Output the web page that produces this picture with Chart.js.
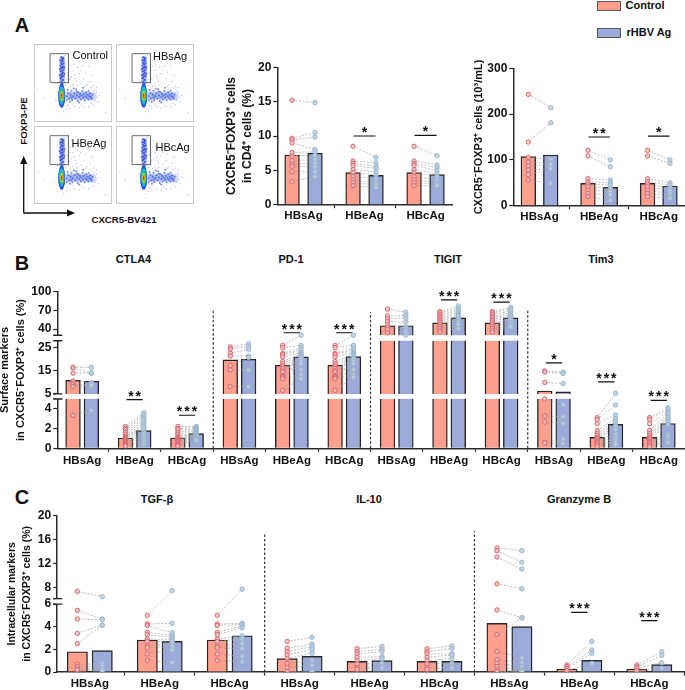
<!DOCTYPE html>
<html>
<head>
<meta charset="utf-8">
<title>CXCR5-FOXP3+ cells</title>
<script src="https://cdn.jsdelivr.net/npm/chart.js@4"></script>
<style>
    html, body { margin: 0; padding: 0; background: #fff; }
    #page { position: relative; width: 685px; height: 690px; overflow: hidden; font-family: "Liberation Sans", Arial, sans-serif; color: #111; }
    #page canvas { position: absolute; }
    .txt { position: absolute; white-space: nowrap; font-weight: bold; transform: translate(-50%, -50%); line-height: 1; }
    .letter { font-size: 20px; }
    .head { font-size: 11px; }
    .pane { position: absolute; box-sizing: border-box; border: 1px solid #c9c9c9; }
    .gate { font-weight: normal; font-size: 11px; transform: translate(0, -50%); }
    .swatch { position: absolute; width: 22px; height: 8px; border: 1px solid #555; }
</style>
</head>
<body>
<div id="page">
    <div class="txt letter" style="left:22px;top:25px">A</div>
    <div class="txt letter" style="left:22px;top:263px">B</div>
    <div class="txt letter" style="left:22px;top:497px">C</div>

    <div class="swatch" style="left:597px;top:1px;background:#ff9f8d"></div>
    <div class="txt" style="left:625.5px;top:5px;font-size:11px;transform:translate(0,-50%)">Control</div>
    <div class="swatch" style="left:597px;top:28px;background:#9baad8"></div>
    <div class="txt" style="left:626.5px;top:32px;font-size:11px;transform:translate(0,-50%)">rHBV Ag</div>

    <div class="txt gate" style="left:72.5px;top:55px;z-index:2">Control</div>
    <div class="txt gate" style="left:153px;top:56px;z-index:2">HBsAg</div>
    <div class="txt gate" style="left:71.5px;top:143px;z-index:2">HBeAg</div>
    <div class="txt gate" style="left:155.5px;top:147px;z-index:2">HBcAg</div>
    <div class="txt" style="left:23.5px;top:121px;font-size:9.6px;transform:translate(-50%,-50%) rotate(-90deg)">FOXP3-PE</div>
    <div class="txt" style="left:124px;top:220px;font-size:9.6px">CXCR5-BV421</div>
    <svg style="position:absolute;left:0;top:0" width="90" height="225">
        <path d="M23.7 213 V162 M23.7 213 H70" stroke="#111" stroke-width="1.3" fill="none"/>
        <path d="M23.7 156 L20.2 164 H27.2 Z M75 213 L67 209.5 V216.5 Z" fill="#111"/>
    </svg>

    <div class="txt head" style="left:133.5px;top:259px">CTLA4</div>
    <div class="txt head" style="left:291px;top:259px">PD-1</div>
    <div class="txt head" style="left:448px;top:259px">TIGIT</div>
    <div class="txt head" style="left:601px;top:259px">Tim3</div>
    <div class="txt head" style="left:157px;top:499px">TGF-β</div>
    <div class="txt head" style="left:369px;top:499px">IL-10</div>
    <div class="txt head" style="left:579px;top:499px">Granzyme B</div>
</div>

<script>
// x tick labels
const threeAg = ['HBsAg', 'HBeAg', 'HBcAg'];
const twelveAg = [...threeAg, ...threeAg, ...threeAg, ...threeAg];
const nineAg = [...threeAg, ...threeAg, ...threeAg];

// Panel A, left: CXCR5-FOXP3+ cells in CD4+ cells (%)
const freqBarControl = [7.23, 4.66, 4.66];
const freqBarAg = [7.5, 4.27, 4.37];
const freqControl = [
    [15.2, 9.66, 9.4, 9.0, 7.6, 7.1, 6.4, 5.9, 5.6, 4.8, 3.35],
    [8.5, 6.36, 6.0, 5.7, 5.1, 4.7, 4.1, 3.6, 3.2, 2.77],
    [8.5, 6.36, 6.0, 5.7, 5.1, 4.7, 4.1, 3.6, 3.2, 2.77]
];
const freqAg = [
    [14.85, 10.5, 9.85, 8.06, 7.7, 7.2, 6.6, 6.0, 5.5, 4.8, 4.1],
    [6.9, 6.1, 5.6, 5.3, 4.8, 4.3, 3.8, 3.2, 2.9, 2.5],
    [7.13, 5.8, 5.4, 5.0, 4.5, 4.1, 3.6, 3.2, 3.0, 2.77]
];
const freqSig = [[1, 10, '*'], [2, 10.1, '*']];

// Panel A, right: CXCR5-FOXP3+ cells (10^3/mL)
const countBarControl = [107, 48.8, 48.8];
const countBarAg = [110.7, 40, 43];
const countControl = [
    [243, 139, 105.6, 95, 87, 78, 68, 56],
    [121, 108.5, 59, 52, 47, 41, 34, 27, 20],
    [121, 108.5, 59, 52, 47, 41, 34, 27, 20]
];
const countAg = [
    [214, 181, 101, 92, 90, 81, 81, 49],
    [100, 85, 56, 50, 45, 38, 31, 24, 12],
    [100, 92.5, 50, 45, 39, 33, 26, 20, 16]
];
const countSig = [[1, 150, '**'], [2, 152, '*']];

// Panel B: surface markers, CTLA4 / PD-1 / TIGIT / Tim3
const surfaceBarControl = [10.9, 1.04, 1.04, 19.7, 17.4, 17.4, 45.4, 50, 50, 6.3, 1.1, 1.1];
const surfaceBarAg = [10.5, 1.78, 1.48, 20, 21, 21.1, 45.4, 58, 58, 5.9, 2.42, 2.5];
const surfaceControl = [
    [16.5, 16.3, 14, 10.6, 9.2, 8.2, 3.33],
    [2.2, 2.0, 1.85, 1.6, 1.4, 1.2, 1.1, 1.0, 0.9, 0.8, 0.7, 0.6, 0.5, 0.4, 0.3, 0.2],
    [2.2, 2.0, 1.85, 1.6, 1.4, 1.2, 1.1, 1.0, 0.9, 0.8, 0.7, 0.6, 0.5, 0.4, 0.3, 0.2],
    [25.3, 24.4, 22.6, 21.4, 17.2, 15.4, 8.2],
    [26, 25, 22.5, 22, 21, 19, 18, 17, 16, 15, 14.5, 13, 12.5, 12, 11.5, 6.6],
    [26, 25, 22.5, 22, 21, 19, 18, 17, 16, 15, 14.5, 13, 12.5, 12, 11.5, 6.6],
    [72, 61, 56.6, 52, 47, 43, 39, 34],
    [68, 66, 63, 60, 58, 55, 53, 50, 47, 44, 41, 38, 35],
    [68, 66, 63, 60, 58, 55, 53, 50, 47, 44, 41, 38, 35],
    [14.9, 14.5, 10, 4.98, 3.27, 2.66, 0.6, 0.55],
    [3.1, 2.9, 2.5, 1.8, 1.5, 1.3, 1.1, 1.0, 0.85, 0.7, 0.6, 0.45, 0.3, 0.13],
    [3.1, 2.9, 2.5, 1.8, 1.5, 1.3, 1.1, 1.0, 0.85, 0.7, 0.6, 0.45, 0.3, 0.13]
];
const surfaceAg = [
    [16.5, 14, 14.1, 9.9, 8.6, 8.8, 3.84],
    [3.6, 3.4, 3.2, 3.0, 2.8, 2.6, 2.4, 2.2, 2.0, 1.7, 1.5, 1.3, 1.1, 0.9, 0.7, 0.4],
    [2.2, 2.1, 2.0, 1.9, 1.8, 1.7, 1.6, 1.5, 1.4, 1.35, 1.3, 1.2, 1.1, 1.0, 0.9, 0.8],
    [26.7, 25.6, 24.3, 21.4, 20.8, 15.4, 8.2],
    [30, 26, 25, 24, 23, 22.5, 22, 21.5, 21, 20.5, 20, 19, 18, 15.5, 13.5, 11.5],
    [30, 26, 25, 24, 23, 22.5, 22, 21.5, 21, 20.5, 20, 19, 18, 15.5, 13.5, 12.2],
    [67, 62, 57.7, 51, 43, 38, 34, 30],
    [77, 73, 70, 67, 64, 62, 60, 57, 55, 52, 50, 47, 41],
    [75, 72, 69, 66, 63, 61, 59, 56, 54, 51, 49, 46, 43.7],
    [14.4, 13.9, 9.5, 4.4, 3.2, 2.5, 0.94, 0.47],
    [5.3, 4.38, 3.37, 3.0, 2.7, 2.4, 2.2, 1.9, 1.4, 1.1, 0.9, 0.7, 0.6, 0.4],
    [4.1, 3.9, 3.7, 3.5, 3.3, 3.1, 2.9, 2.7, 2.4, 1.4, 1.2, 0.9, 0.7, 0.6]
];
const surfaceSig = [
    [1, 4.91, '**'], [2, 3.34, '***'], [4, 34.1, '***'], [5, 34.1, '***'],
    [7, 87, '***'], [8, 83.4, '***'], [9, 18.4, '*'], [10, 10.2, '***'], [11, 4.85, '***']
];

// Panel C: intracellular markers, TGF-β / IL-10 / Granzyme B
const innerBarControl = [1.79, 2.82, 2.82, 1.18, 0.94, 0.94, 4.29, 0.26, 0.26];
const innerBarAg = [1.88, 2.7, 3.2, 1.38, 1.0, 0.94, 4.0, 1.03, 0.65];
const innerControl = [
    [7.33, 5.44, 4.68, 3.41, 2.5, 0.68, 0.47, 0.26, 0.18],
    [5.0, 4.24, 4.1, 3.5, 3.3, 2.9, 2.7, 2.3, 2.15, 1.6, 1.03],
    [5.0, 4.24, 4.1, 3.5, 3.3, 2.9, 2.7, 2.3, 2.15, 1.6, 1.03],
    [2.7, 2.1, 1.8, 1.5, 1.2, 0.75, 0.4, 0.03],
    [2.06, 1.8, 1.6, 1.3, 1.0, 0.7, 0.4, 0.24],
    [2.06, 1.8, 1.6, 1.3, 1.0, 0.7, 0.4, 0.24],
    [14.6, 14.15, 13.08, 8.6, 5.47, 3.3, 1.82, 1.1, 0.76, 0.47, 0.18, 0.03],
    [0.62, 0.47, 0.32, 0.12],
    [0.62, 0.47, 0.32, 0.12]
];
const innerAg = [
    [6.44, 4.68, 4.62, 4.15, 4.12, 0.74, 0.53, 0.29, 0.12],
    [7.44, 4.3, 3.47, 3.26, 3.06, 2.88, 2.68, 2.47, 2.24, 1.94, 0.85],
    [7.7, 4.3, 4.2, 4.06, 3.9, 3.2, 2.94, 2.5, 2.06, 1.4, 0.9],
    [3.06, 2.47, 2.24, 2.0, 1.65, 1.06, 0.62, 0.03],
    [2.26, 2.0, 1.8, 1.35, 1.2, 0.76, 0.47, 0.35],
    [2.3, 2.06, 1.6, 1.5, 1.2, 0.76, 0.47, 0.35],
    [14.15, 12.2, 11.07, 7.78, 4.8, 4.76, 1.26, 0.82, 0.47, 0.18, 0.1, 0.06],
    [2.7, 1.94, 1.65, 0.76],
    [1.8, 1.47, 0.82, 0.32]
];
const innerSig = [[7, 5.26, '***'], [8, 4.53, '***']];

// Flow plot dots, read by eye (x, y in percent of a pane)
const flowCoreBlue = [[35.5, 20], [35.5, 22], [35.5, 25], [35.5, 28], [35.5, 31], [35.5, 34], [35.5, 37], [35.5, 40], [35.5, 43], [35.5, 46], [35.5, 48]];
const flowCoreBlueSize = [1.4, 2.2, 2.9, 3.3, 3.5, 3.5, 3.4, 3.1, 2.7, 2.2, 1.5];
const flowCoreCyan = [[35.5, 24], [35.5, 27], [35.5, 30], [35.5, 33], [35.5, 36], [35.5, 39], [35.5, 42], [35.5, 44]];
const flowCoreCyanSize = [1.2, 2.0, 2.6, 2.8, 2.8, 2.6, 2.0, 1.2];
const flowCoreGreen = [[35.5, 27], [35.5, 30], [35.5, 33], [35.5, 36], [35.5, 39], [35.5, 41]];
const flowCoreGreenSize = [1.2, 1.9, 2.2, 2.2, 1.8, 1.1];
const flowCoreYellow = [[35.5, 29], [35.5, 32], [35.5, 35], [35.5, 38]];
const flowCoreYellowSize = [1.0, 1.5, 1.5, 1.0];
const flowCoreRed = [[35.5, 31.5], [35.5, 33.5], [35.5, 35.5]];
const flowCoreRedSize = [0.7, 1.0, 0.7];
const flowStem = [
    [36, 49], [35, 52], [37, 54], [34, 56], [36, 58], [38, 59], [35, 61], [37, 63], [34, 65], [36, 66], [38, 67],
    [35, 69], [37, 71], [34, 72], [36, 74], [38, 75], [35, 76], [37, 78], [34, 79], [36, 80], [37, 81], [39, 62],
    [33, 60], [39, 70], [33, 68], [36, 62], [36, 70], [35, 57], [37, 82], [35, 83]
];
const flowStemHaze = [[36, 52], [36, 57], [36, 62], [36, 67], [36, 72], [36, 77], [36, 81]];
const flowTail = [
    [42, 33], [44, 37], [45, 30], [47, 35], [48, 40], [49, 28], [50, 33], [52, 37], [53, 30], [54, 42],
    [55, 34], [56, 27], [57, 38], [58, 32], [59, 36], [60, 29], [61, 34], [62, 40], [63, 31], [64, 36],
    [65, 28], [66, 33], [67, 38], [68, 31], [69, 35], [70, 29], [71, 33], [72, 37], [73, 32], [74, 30],
    [43, 41], [46, 26], [51, 43], [58, 25], [63, 44], [42, 28], [75, 35], [70, 40], [48, 31], [55, 39]
];
const flowTailHaze = [[43, 34], [47, 33], [51, 34], [55, 34], [59, 33], [63, 34], [67, 34], [71, 33], [75, 33]];
const flowSpray = [
    [40, 85], [44, 78], [47, 72], [50, 66], [43, 63], [46, 55], [52, 60], [56, 70], [48, 82], [54, 52],
    [58, 62], [60, 50], [64, 56], [50, 48], [44, 50], [68, 48], [72, 52], [62, 72], [66, 64], [76, 46],
    [80, 38], [84, 34], [78, 28], [82, 26], [76, 22], [70, 20], [64, 20], [58, 18], [52, 20], [46, 18],
    [42, 16], [38, 13], [80, 44], [74, 60], [58, 78], [30, 50], [28, 28], [30, 38], [5, 42], [92, 12],
    [12, 30], [70, 72], [55, 47], [48, 58], [40, 72], [42, 55], [45, 66], [51, 74], [41, 47], [47, 46],
    [53, 56], [60, 66], [66, 46], [73, 44], [78, 40], [81, 31], [73, 24], [61, 23], [49, 23], [43, 21]
];
const flowGate = [[20.6, 50.5], [20.6, 87.6], [44.2, 87.6], [44.2, 50.5], [20.6, 50.5]];

const FONT = '"Liberation Sans", Arial, sans-serif';
const page = document.getElementById('page');

// Linear scale with axis breaks: pieces say how far above the axis bottom (px) a value range sits
class BrokenScale extends Chart.LinearScale {
    static id = 'broken';
    static defaults = {};

    buildTicks() {
        return this.options.tickValues.map(value => ({ value }));
    }

    getPixelForValue(value) {
        const pieces = this.options.pieces;
        let piece = pieces[pieces.length - 1];
        for (let i = 0; i < pieces.length; i++) {
            if (value <= pieces[i].to) {
                piece = pieces[i];
                break;
            }
        }
        const t = Math.max(0, (value - piece.from) / (piece.to - piece.from));
        return this.bottom - (piece.a + t * (piece.b - piece.a));
    }
}
Chart.register(BrokenScale);

// White strip over the bars at each break, with the two short strokes on the axis
const breakPlugin = {
    id: 'breakStrips',
    afterDatasetDraw(chart, args) {
        const y = chart.scales.y;
        if (args.meta.type !== 'bar' || y.type !== 'broken') return;
        const pieces = y.options.pieces;
        const ctx = chart.ctx;
        ctx.save();
        for (let i = 1; i < pieces.length; i++) {
            const lower = y.bottom - pieces[i - 1].b;
            const upper = y.bottom - pieces[i].a;
            ctx.fillStyle = '#fff';
            ctx.fillRect(y.right - 2, upper, chart.width, lower - upper);
            ctx.strokeStyle = '#222';
            ctx.lineWidth = 1.2;
            ctx.beginPath();
            ctx.moveTo(y.right - 4, upper);
            ctx.lineTo(y.right + 5, upper);
            ctx.moveTo(y.right - 4, lower);
            ctx.lineTo(y.right + 5, lower);
            ctx.stroke();
        }
        ctx.restore();
    }
};

function starPlugin(sig) {
    return {
        id: 'sigStars',
        afterDatasetsDraw(chart) {
            const ctx = chart.ctx;
            ctx.save();
            ctx.font = 'bold 14px ' + FONT;
            ctx.letterSpacing = '2px';
            ctx.fillStyle = '#111';
            ctx.textAlign = 'center';
            ctx.textBaseline = 'alphabetic';
            sig.forEach(([x, y, label]) => {
                ctx.fillText(label, chart.scales.x.getPixelForValue(x) + 1, chart.scales.y.getPixelForValue(y) + 1);
            });
            ctx.restore();
        }
    };
}

function addCanvas(left, top, width, height) {
    const canvas = document.createElement('canvas');
    canvas.width = width;
    canvas.height = height;
    canvas.style.left = left + 'px';
    canvas.style.top = top + 'px';
    canvas.style.width = width + 'px';
    canvas.style.height = height + 'px';
    page.appendChild(canvas);
    return canvas;
}

function pairLines(control, ag, offset) {
    const data = [];
    control.forEach((values, group) => {
        values.forEach((value, i) => {
            data.push({ x: group - offset, y: value }, { x: group + offset, y: ag[group][i] }, { x: null, y: null });
        });
    });
    return data;
}

function column(series, offset) {
    return series.flatMap((values, group) => values.map(y => ({ x: group + offset, y })));
}

function barData(values, offset) {
    return values.map((y, group) => ({ x: group + offset, y }));
}

function renderPanel(p) {
    const canvas = addCanvas(p.left, p.top, p.width, p.height);
    const sigLines = p.sig.flatMap(([x, y]) => [{ x: x - p.sigHalf, y }, { x: x + p.sigHalf, y }, { x: null, y: null }]);
    const dividers = (p.dividers || []).flatMap(([x, y]) => [{ x, y: 0 }, { x, y }, { x: null, y: null }]);

    const datasets = [
        {
            type: 'scatter', data: column(p.ag, p.offset), order: 0,
            pointRadius: p.pointRadius, pointBorderWidth: 1,
            pointBackgroundColor: 'rgba(190,207,220,0.85)', pointBorderColor: '#9ab5d0'
        },
        {
            type: 'scatter', data: column(p.control, -p.offset), order: 0,
            pointRadius: p.pointRadius, pointBorderWidth: 1,
            pointBackgroundColor: 'rgba(232,196,196,0.8)', pointBorderColor: '#d9666f'
        },
        {
            type: 'line', data: pairLines(p.control, p.ag, p.offset), order: 1, pointRadius: 0,
            borderColor: '#a0a0a0', borderWidth: 0.7, borderDash: [2, 1.5], spanGaps: false
        },
        {
            type: 'line', data: sigLines, order: 1, pointRadius: 0,
            borderColor: '#111', borderWidth: 1.2, spanGaps: false
        },
        {
            type: 'line', data: dividers, order: 1, pointRadius: 0,
            borderColor: '#333', borderWidth: 1.2, borderDash: [2.5, 2], spanGaps: false
        },
        {
            type: 'bar', data: barData(p.barAg, p.offset), order: 2, grouped: false,
            barThickness: p.barWidth, backgroundColor: '#9baad8', borderColor: '#262626', borderWidth: 1.4
        },
        {
            type: 'bar', data: barData(p.barControl, -p.offset), order: 2, grouped: false,
            barThickness: p.barWidth, backgroundColor: '#ff9f8d', borderColor: '#262626', borderWidth: 1.4
        }
    ];

    return new Chart(canvas, {
        type: 'bar',
        data: { datasets },
        options: {
            responsive: false,
            animation: false,
            events: [],
            layout: { autoPadding: false, padding: { top: p.padTop, left: 0, right: 0, bottom: 0 } },
            plugins: { legend: { display: false }, tooltip: { enabled: false } },
            scales: {
                x: {
                    type: 'linear', min: p.xMin, max: p.xMax, offset: false,
                    afterBuildTicks: scale => { scale.ticks = p.names.map((_, i) => ({ value: i })); },
                    afterFit: scale => { scale.height = p.xHeight; },
                    grid: { display: true, drawOnChartArea: false, drawTicks: true, tickLength: 3.5, tickColor: '#222', tickWidth: 1.2 },
                    border: { display: true, color: '#2a2a2a', width: 1.5 },
                    ticks: {
                        autoSkip: false, maxRotation: 0, minRotation: 0, padding: p.xPad, color: '#111',
                        font: { family: FONT, weight: 'bold', size: 11.5 },
                        callback: value => p.names[Math.round(value)]
                    }
                },
                y: Object.assign({
                    afterFit: scale => { scale.width = p.axisWidth; },
                    grid: { display: true, drawOnChartArea: false, drawTicks: true, tickLength: 4, tickColor: '#222', tickWidth: 1.2 },
                    border: { display: true, color: '#2a2a2a', width: 1.5 },
                    title: {
                        display: true, text: p.yTitle, color: '#111', padding: { top: p.titlePad, bottom: 0 },
                        font: { family: FONT, weight: 'bold', size: p.titleSize, lineHeight: p.titleLine + 'px' }
                    },
                    ticks: { padding: 2, color: '#111', font: { family: FONT, weight: 'bold', size: 12 } }
                }, p.yScale)
            }
        },
        plugins: [breakPlugin, starPlugin(p.sig)]
    });
}

function renderFlow(left, top, width, height) {
    const box = document.createElement('div');
    box.className = 'pane';
    box.style.cssText = `left:${left}px;top:${top}px;width:${width}px;height:${height}px`;
    page.appendChild(box);
    const canvas = addCanvas(left, top, width, height);
    canvas.style.filter = 'blur(0.4px)';
    const dots = (data, radius, color) => ({ type: 'scatter', data: data.map(([x, y]) => ({ x, y })), pointRadius: radius, pointBorderWidth: 0, pointBackgroundColor: color });
    // later entries in the list are painted first
    const datasets = [
        { type: 'line', data: flowGate.map(([x, y]) => ({ x, y })), pointRadius: 0, borderColor: '#6a6a6a', borderWidth: 1 },
        dots(flowCoreRed, flowCoreRedSize, '#e8201c'),
        dots(flowCoreYellow, flowCoreYellowSize, '#f0d21a'),
        dots(flowCoreGreen, flowCoreGreenSize, '#35c45a'),
        dots(flowCoreCyan, flowCoreCyanSize, '#16bfe0'),
        dots(flowCoreBlue, flowCoreBlueSize, '#2a55e0'),
        dots(flowStem, 1.0, 'rgba(40,70,210,0.8)'),
        dots(flowStemHaze, 3.0, 'rgba(70,100,225,0.4)'),
        dots(flowTail, 1.0, 'rgba(50,85,220,0.7)'),
        dots(flowTailHaze, 4.2, 'rgba(90,120,235,0.28)'),
        dots(flowSpray, 0.6, 'rgba(120,140,235,0.7)')
    ];
    return new Chart(canvas, {
        type: 'scatter',
        data: { datasets },
        options: {
            responsive: false, animation: false, events: [],
            layout: { autoPadding: false, padding: 0 },
            plugins: { legend: { display: false }, tooltip: { enabled: false } },
            scales: {
                x: { type: 'linear', display: false, min: 0, max: 100 },
                y: { type: 'linear', display: false, min: 0, max: 100 }
            }
        }
    });
}

renderFlow(34, 44, 78, 78);
renderFlow(115.5, 44, 78, 78);
renderFlow(34, 125.5, 78, 78);
renderFlow(115.5, 125.5, 78, 78);

renderPanel({
    left: 220, top: 55, width: 233, height: 175, padTop: 12.3, xHeight: 25.3, axisWidth: 57.3, xPad: 1,
    xMin: -0.43, xMax: 2.45, offset: 0.188, barWidth: 14.7, pointRadius: 2.2, sigHalf: 0.18,
    names: threeAg, barControl: freqBarControl, barAg: freqBarAg, control: freqControl, ag: freqAg, sig: freqSig,
    yTitle: ['CXCR5⁻FOXP3⁺ cells', 'in CD4⁺ cells (%)'], titleSize: 12, titleLine: 16, titlePad: 4,
    yScale: { type: 'linear', min: 0, max: 20, ticks: { stepSize: 5, padding: 2, color: '#111', font: { family: FONT, weight: 'bold', size: 12 } } }
});

renderPanel({
    left: 467, top: 55, width: 218, height: 175, padTop: 13.3, xHeight: 24.3, axisWidth: 46.3, xPad: 1,
    xMin: -0.44, xMax: 2.44, offset: 0.188, barWidth: 14.7, pointRadius: 2.2, sigHalf: 0.18,
    names: threeAg, barControl: countBarControl, barAg: countBarAg, control: countControl, ag: countAg, sig: countSig,
    yTitle: ['CXCR5⁻FOXP3⁺ cells (10³/mL)'], titleSize: 11, titleLine: 16, titlePad: 4,
    yScale: { type: 'linear', min: 0, max: 300, ticks: { stepSize: 100, padding: 2, color: '#111', font: { family: FONT, weight: 'bold', size: 12 } } }
});

renderPanel({
    left: -3, top: 280, width: 688, height: 195, padTop: 11.7, xHeight: 26.7, axisWidth: 60.3, xPad: 2,
    xMin: -0.475, xMax: 11.5, offset: 0.175, barWidth: 14.7, pointRadius: 2.2, sigHalf: 0.155,
    names: twelveAg, barControl: surfaceBarControl, barAg: surfaceBarAg, control: surfaceControl, ag: surfaceAg, sig: surfaceSig,
    dividers: [[2.5, 70], [5.5, 67], [8.5, 72]],
    yTitle: ['Surface markers', 'in CXCR5⁻FOXP3⁺ cells (%)'], titleSize: 11, titleLine: 16, titlePad: 0,
    yScale: {
        type: 'broken', min: 0, max: 100,
        tickValues: [0, 2, 4, 5, 15, 25, 40, 70, 100],
        pieces: [
            { from: 0, to: 4.999, a: 0, b: 49.5 },
            { from: 5, to: 28, a: 54.3, b: 107.6 },
            { from: 30, to: 100, a: 113, b: 156.6 }
        ]
    }
});

renderPanel({
    left: 4.5, top: 505, width: 680.5, height: 185, padTop: 10.7, xHeight: 18, axisWidth: 52.2, xPad: 1,
    xMin: -0.466, xMax: 8.51, offset: 0.178, barWidth: 20.3, pointRadius: 2.2, sigHalf: 0.115,
    names: nineAg, barControl: innerBarControl, barAg: innerBarAg, control: innerControl, ag: innerAg, sig: innerSig,
    dividers: [[2.5, 16.9], [5.5, 17.4]],
    yTitle: ['Intracellular markers', 'in CXCR5⁻FOXP3⁺ cells (%)'], titleSize: 10.5, titleLine: 15, titlePad: 0,
    yScale: {
        type: 'broken', min: 0, max: 20,
        tickValues: [0, 2, 4, 6, 8, 12, 16, 20],
        pieces: [
            { from: 0, to: 6, a: 0, b: 68 },
            { from: 6.1, to: 20, a: 73.3, b: 156.3 }
        ]
    }
});
</script>
</body>
</html>
